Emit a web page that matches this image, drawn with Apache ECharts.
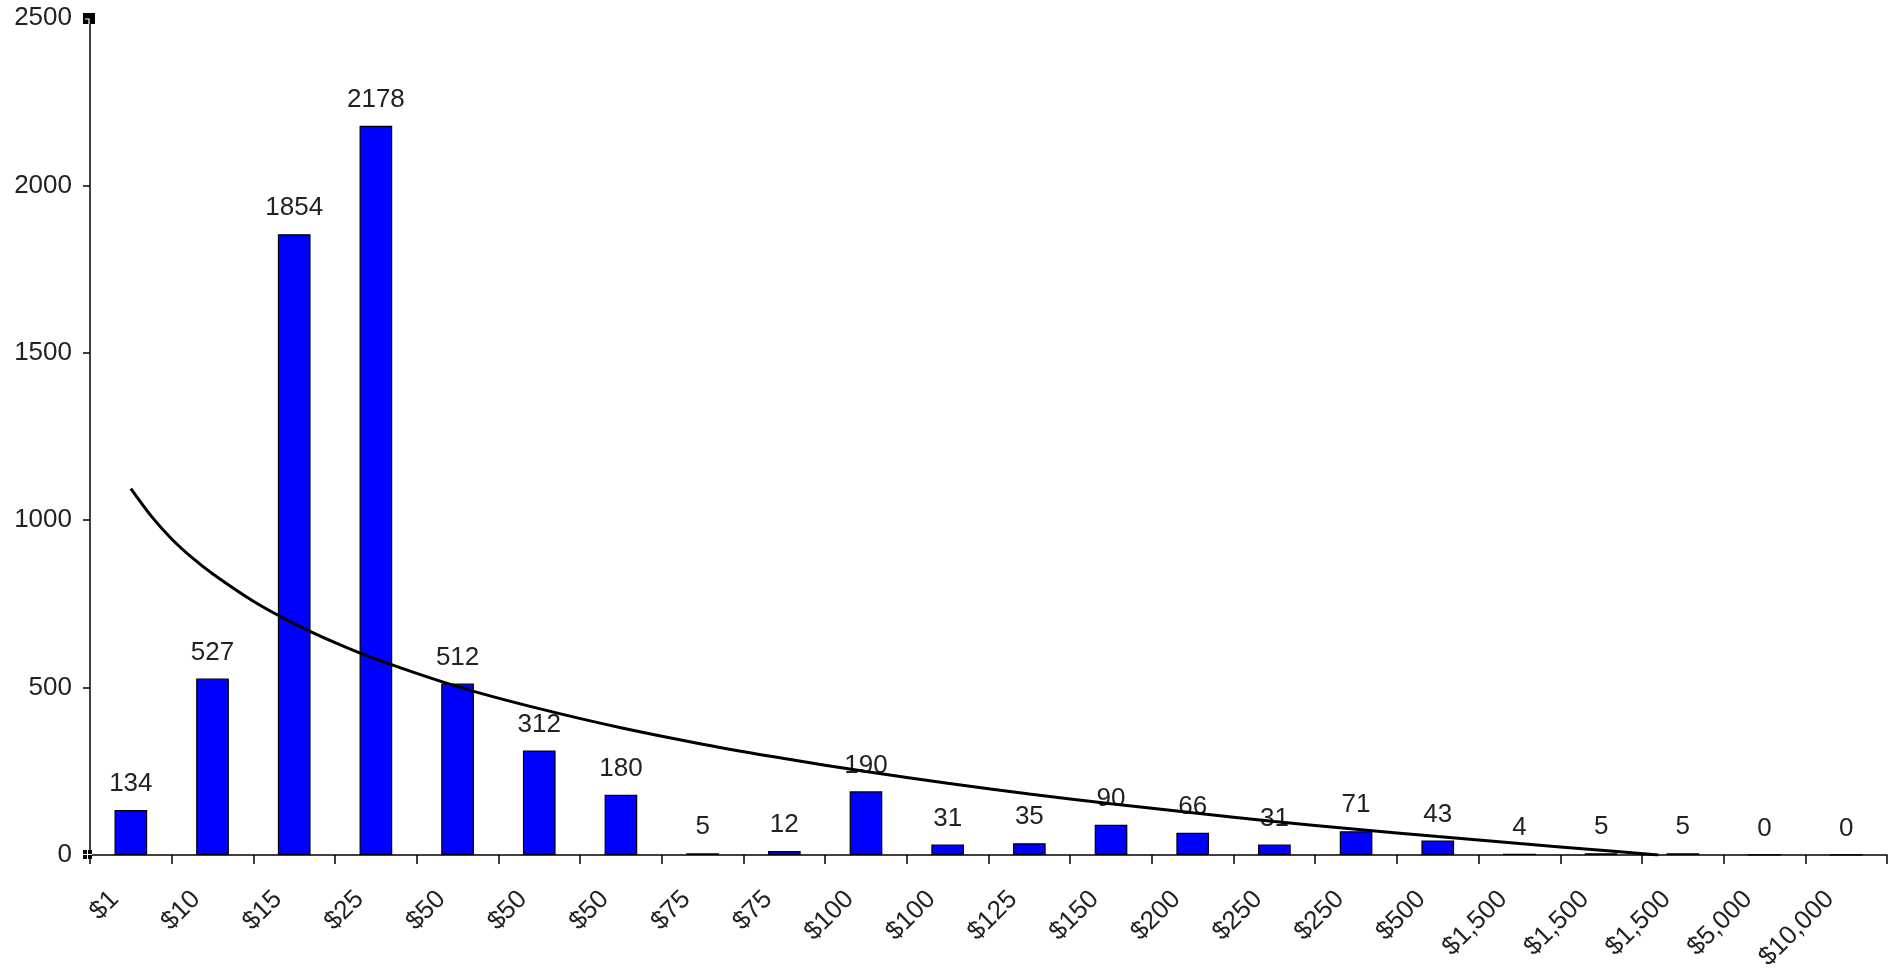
<!DOCTYPE html>
<html>
<head>
<meta charset="utf-8">
<title>Donation amounts</title>
<script src="https://cdn.jsdelivr.net/npm/echarts@6/dist/echarts.min.js"></script>
<style>
  html, body { margin: 0; padding: 0; background: #ffffff; }
  #chart { width: 1899px; height: 973px; }
</style>
</head>
<body>
<div id="chart"></div>
<script>
// Gift size buckets along the x axis
const categories = ['$1', '$10', '$15', '$25', '$50', '$50', '$50', '$75', '$75', '$100', '$100',
  '$125', '$150', '$200', '$250', '$250', '$500', '$1,500', '$1,500', '$1,500', '$5,000', '$10,000'];

// Number of gifts in each bucket
const counts = [134, 527, 1854, 2178, 512, 312, 180, 5, 12, 190, 31, 35, 90, 66, 31, 71, 43, 4, 5, 5, 0, 0];

// Logarithmic trend line: bucket position (1 = first bucket) and level
const trendX = [1, 1.25, 1.5, 1.75, 2, 2.5, 3, 3.5, 4, 5, 6, 7, 8, 9, 10, 11, 12, 13, 14, 15, 16, 17, 18, 19, 19.7];
const trendY = [1094, 1012, 944, 888, 840, 758, 691, 634, 585, 503, 437, 380, 331, 288, 249, 214, 182, 153, 126, 100, 77, 55, 34, 14, 0];

// Value axis ticks
const yMin = 0;
const yMax = 2500;
const yStep = 500;

const FONT = '"Liberation Sans", Arial, sans-serif';
const TEXT = '#222222';
const FS = 26;

const chart = echarts.init(document.getElementById('chart'), null, { renderer: 'canvas' });

const option = {
  backgroundColor: '#ffffff',
  animation: false,
  grid: { left: 90, right: 12, top: 18, bottom: 115, containLabel: false },
  xAxis: [
    {
      type: 'category',
      data: categories,
      boundaryGap: true,
      axisLine: { show: true, lineStyle: { color: '#000000', width: 1.5 } },
      axisTick: { show: true, length: 9, interval: 0, lineStyle: { color: '#000000', width: 1.5 } },
      axisLabel: {
        interval: 0,
        rotate: 45,
        margin: 24,
        padding: [0, 23, 0, 0],
        color: TEXT,
        fontFamily: FONT,
        fontSize: FS
      },
      splitLine: { show: false }
    },
    {
      // hidden continuous axis aligned with the bucket centres, used by the trend line
      type: 'value',
      min: 0.5,
      max: categories.length + 0.5,
      show: false,
      splitLine: { show: false }
    }
  ],
  yAxis: {
    type: 'value',
    min: yMin,
    max: yMax,
    interval: yStep,
    axisLine: { show: true, lineStyle: { color: '#000000', width: 1.5 } },
    axisTick: { show: true, length: 7, lineStyle: { color: '#000000', width: 1.5 } },
    axisLabel: {
      margin: 18,
      color: TEXT,
      fontFamily: FONT,
      fontSize: FS,
      formatter: (v) => String(v)
    },
    splitLine: { show: false }
  },
  series: [
    {
      name: 'Gifts',
      type: 'bar',
      xAxisIndex: 0,
      data: counts,
      barWidth: '40%',
      itemStyle: { color: '#0000ff', borderColor: '#000000', borderWidth: 1.2 },
      label: {
        show: true,
        position: 'top',
        distance: 13,
        color: TEXT,
        fontFamily: FONT,
        fontSize: FS
      },
      z: 2
    },
    {
      name: 'Trend',
      type: 'line',
      xAxisIndex: 1,
      data: trendX.map((x, i) => [x, trendY[i]]),
      smooth: 0.3,
      symbol: 'none',
      clip: true,
      lineStyle: { color: '#000000', width: 3 },
      z: 4
    }
  ]
};

chart.setOption(option);

// Small handle markers at both ends of the value axis
const topY = chart.convertToPixel({ yAxisIndex: 0 }, yMax);
const baseY = chart.convertToPixel({ yAxisIndex: 0 }, yMin);
const axisX = option.grid.left;
chart.setOption({
  graphic: [
    { type: 'rect', shape: { x: axisX - 7, y: topY - 5, width: 12, height: 11 }, style: { fill: '#000000' }, z: 10 },
    { type: 'polyline', shape: { points: [[axisX - 5, topY + 1], [axisX - 1, topY + 1], [axisX - 1, topY + 6]] },
      style: { stroke: '#ffffff', lineWidth: 1.2, fill: null }, z: 11 },
    { type: 'rect', shape: { x: axisX - 7, y: baseY - 5, width: 9, height: 9 }, style: { fill: '#000000' }, z: 10 },
    { type: 'line', shape: { x1: axisX - 2.5, y1: baseY - 5, x2: axisX - 2.5, y2: baseY + 4 }, style: { stroke: '#ffffff', lineWidth: 1 }, z: 11 },
    { type: 'line', shape: { x1: axisX - 7, y1: baseY - 0.5, x2: axisX + 2, y2: baseY - 0.5 }, style: { stroke: '#ffffff', lineWidth: 1 }, z: 11 }
  ]
});
</script>
</body>
</html>
